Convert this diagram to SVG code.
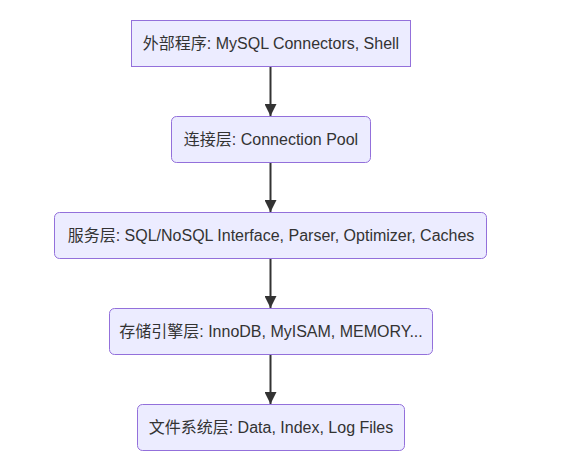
<svg xmlns="http://www.w3.org/2000/svg" width="585" height="469" viewBox="0 0 585 469">
<style>
.n rect{fill:#ECECFF;stroke:#9370DB;stroke-width:1}
.n text{font-family:"Liberation Sans","Noto Sans CJK SC",sans-serif;font-size:16px;fill:#333;text-anchor:middle;dominant-baseline:central}
.e{stroke:#333;stroke-width:2;fill:none}
</style>
<defs>
<marker id="ah" viewBox="0 0 10 10" refX="10" refY="5" markerWidth="6" markerHeight="6" markerUnits="strokeWidth" orient="auto">
<path d="M0,0L10,5L0,10z" fill="#333"/>
</marker>
</defs>
<rect width="585" height="469" fill="#fff"/>
<g id="edges">
<path class="e" d="M270.5,67V116" marker-end="url(#ah)"/>
<path class="e" d="M270.5,163V212" marker-end="url(#ah)"/>
<path class="e" d="M270.5,259V308" marker-end="url(#ah)"/>
<path class="e" d="M270.5,355V404" marker-end="url(#ah)"/>
</g>
<g id="n1" class="n"><rect x="131.5" y="20.5" width="279" height="46"/><text x="271" y="43.5">外部程序: MySQL Connectors, Shell</text></g>
<g id="n2" class="n"><rect x="171.5" y="116.5" width="199" height="46" rx="5"/><text x="271" y="139.5">连接层: Connection Pool</text></g>
<g id="n3" class="n"><rect x="54.5" y="212.5" width="432" height="46" rx="5"/><text x="271" y="235.5">服务层: SQL/NoSQL Interface, Parser, Optimizer, Caches</text></g>
<g id="n4" class="n"><rect x="109.5" y="308.5" width="323" height="46" rx="5"/><text x="271" y="331.5">存储引擎层: InnoDB, MyISAM, MEMORY...</text></g>
<g id="n5" class="n"><rect x="137.5" y="404.5" width="267" height="46" rx="5"/><text x="271" y="427.5">文件系统层: Data, Index, Log Files</text></g>
</svg>
